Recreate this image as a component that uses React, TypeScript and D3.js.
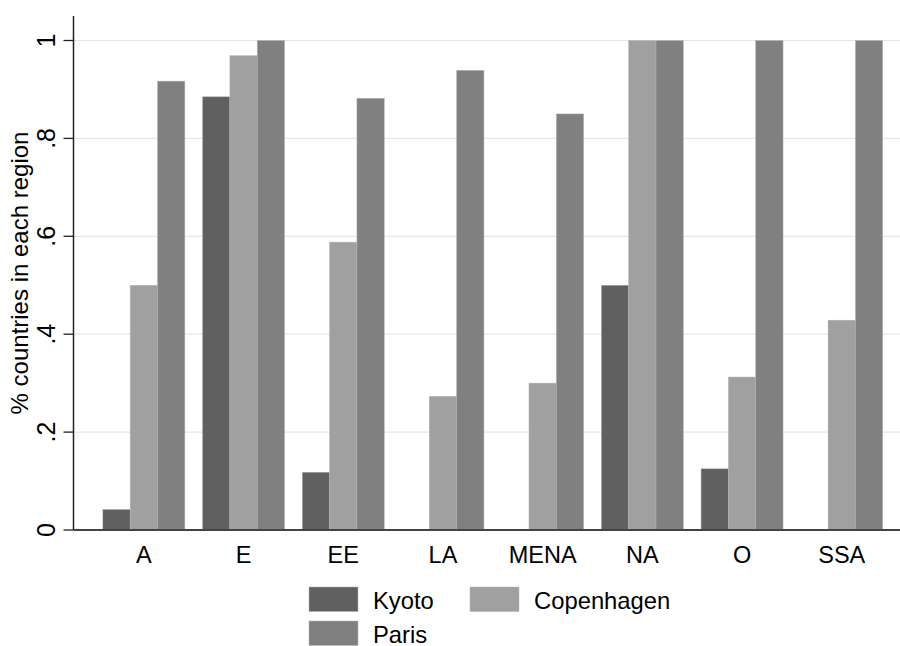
import React from "react";
import * as d3 from "d3";

const regions = ["A", "E", "EE", "LA", "MENA", "NA", "O", "SSA"];
const seriesNames = ["Kyoto", "Copenhagen", "Paris"];
const kyoto = [0.042, 0.885, 0.118, 0, 0, 0.5, 0.125, 0];
const copenhagen = [0.5, 0.969, 0.588, 0.273, 0.3, 1, 0.3125, 0.4286];
const paris = [0.917, 1, 0.882, 0.939, 0.85, 1, 1, 1];
const yTicks = [0, 0.2, 0.4, 0.6, 0.8, 1];
const yTickLabels = ["0", ".2", ".4", ".6", ".8", "1"];
const colors = ["#606060", "#a0a0a0", "#808080"];

const seriesValues = [kyoto, copenhagen, paris];

export default function App() {
  const W = 900;
  const H = 646;
  const axisX = 73.5;
  const axisBottom = 530;
  const axisTop = 16;
  const font = "'Liberation Sans', Arial, Helvetica, sans-serif";

  const y = d3.scaleLinear().domain([0, 1]).range([530, 40.5]);
  const x = d3
    .scaleBand<string>()
    .domain(regions)
    .range([94, 891.6])
    .paddingInner(0.1775)
    .paddingOuter(0.08875);
  const xs = d3
    .scaleBand<string>()
    .domain(seriesNames)
    .range([0, x.bandwidth()])
    .padding(0);

  return (
    <svg
      width={W}
      height={H}
      style={{ position: "absolute", left: 0, top: 0, background: "#fff" }}
      fontFamily={font}
    >
      <rect x={0} y={0} width={W} height={H} fill="#fff" />
      {/* gridlines */}
      {yTicks.map((t) => (
        <line
          key={"g" + t}
          x1={axisX}
          x2={W}
          y1={y(t)}
          y2={y(t)}
          stroke="#e6e6e6"
          strokeWidth={1.2}
        />
      ))}
      {/* bars */}
      {regions.map((r, i) =>
        seriesNames.map((s, j) => {
          const v = seriesValues[j][i];
          if (v <= 0) return null;
          return (
            <rect
              key={r + s}
              x={(x(r) as number) + (xs(s) as number)}
              y={y(v)}
              width={xs.bandwidth()}
              height={y(0) - y(v)}
              fill={colors[j]}
              stroke="#b4b4b4"
              strokeWidth={0.5}
            />
          );
        })
      )}
      {/* axes */}
      <line x1={axisX} x2={axisX} y1={axisTop} y2={axisBottom} stroke="#222" strokeWidth={1.5} />
      <line x1={axisX} x2={W} y1={axisBottom} y2={axisBottom} stroke="#444" strokeWidth={1.8} />
      {yTicks.map((t, i) => (
        <g key={"t" + t}>
          <line x1={axisX - 10} x2={axisX} y1={y(t)} y2={y(t)} stroke="#222" strokeWidth={1.3} />
          <text
            transform={`translate(55,${y(t)}) rotate(-90)`}
            textAnchor="middle"
            fontSize={25}
            fill="#000"
          >
            {yTickLabels[i]}
          </text>
        </g>
      ))}
      {regions.map((r) => (
        <text
          key={"x" + r}
          x={(x(r) as number) + x.bandwidth() / 2}
          y={562.5}
          textAnchor="middle"
          fontSize={23.5}
          fill="#000"
        >
          {r}
        </text>
      ))}
      <text
        transform={`translate(28,273) rotate(-90)`}
        textAnchor="middle"
        fontSize={24}
        fill="#000"
      >
        % countries in each region
      </text>
      {/* legend */}
      {[
        { name: "Kyoto", c: colors[0], sx: 309, sy: 587, tx: 373 },
        { name: "Copenhagen", c: colors[1], sx: 470, sy: 587, tx: 534 },
        { name: "Paris", c: colors[2], sx: 309, sy: 621, tx: 373 },
      ].map((l) => (
        <g key={l.name}>
          <rect x={l.sx} y={l.sy} width={49} height={24.5} fill={l.c} stroke="#b4b4b4" strokeWidth={0.5} />
          <text x={l.tx} y={l.sy + 21.5} fontSize={23.8} fill="#000">
            {l.name}
          </text>
        </g>
      ))}
    </svg>
  );
}
